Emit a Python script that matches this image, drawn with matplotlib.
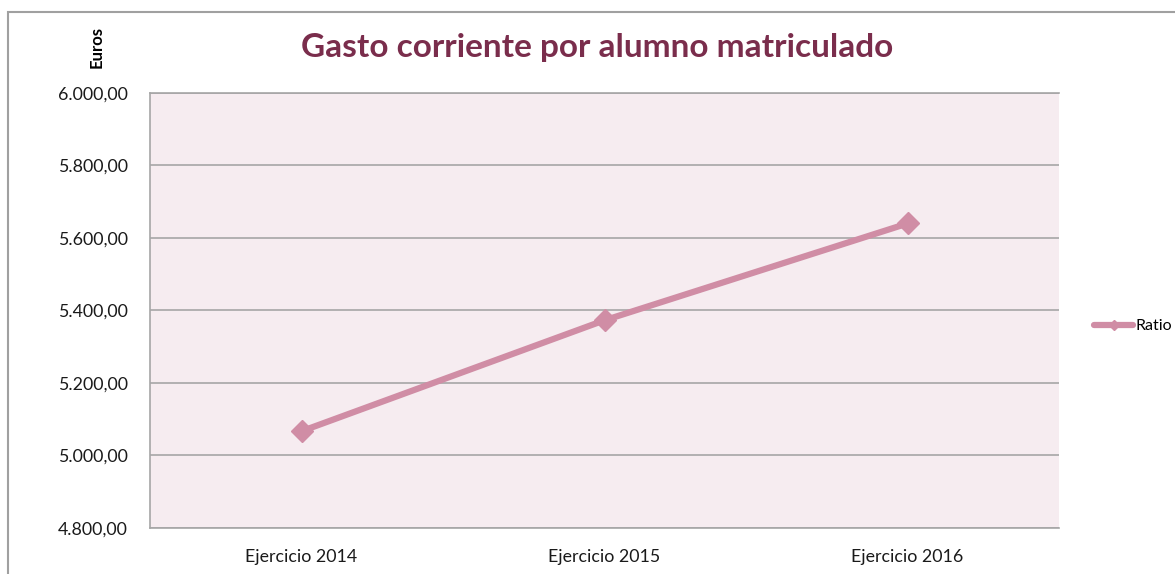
import matplotlib.pyplot as plt
from matplotlib.patches import Rectangle
from matplotlib.lines import Line2D
from matplotlib.ticker import FuncFormatter

categorias = ['Ejercicio 2014', 'Ejercicio 2015', 'Ejercicio 2016']
ratio = [5067, 5373, 5640]
y_ticks = [4800, 5000, 5200, 5400, 5600, 5800, 6000]

linea = '#D08DA5'
fondo = '#F6ECF0'
rejilla = '#A6A6A6'

plt.rcParams['font.family'] = ['Lato', 'DejaVu Sans']

fig = plt.figure(figsize=(11.75, 5.74), dpi=100)
ax = fig.add_axes([150/1175, 46/574, 909/1175, 435/574])
ax.set_facecolor(fondo)

x = list(range(len(categorias)))
ax.plot(x, ratio, color=linea, lw=4.5, marker='D', ms=11, solid_capstyle='round', zorder=3)

ax.set_xlim(-0.5, 2.5)
ax.set_ylim(4800, 6000)
ax.set_yticks(y_ticks)
ax.yaxis.set_major_formatter(FuncFormatter(lambda v, p: f'{v:,.2f}'.replace(',', 'X').replace('.', ',').replace('X', '.')))
ax.set_xticks(x)
ax.set_xticklabels(categorias)
ax.tick_params(axis='both', length=0, labelsize=12.8, colors='#1a1a1a')
ax.tick_params(axis='y', pad=16)
ax.tick_params(axis='x', pad=15)
ax.grid(axis='y', color=rejilla, lw=1.2)
ax.set_axisbelow(True)
ax.spines['right'].set_visible(False)
for s in ['left', 'bottom', 'top']:
    ax.spines[s].set_color(rejilla)
    ax.spines[s].set_linewidth(1.2)

fig.text(597/1175, 1 - 47/574, 'Gasto corriente por alumno matriculado', ha='center', va='center',
         fontsize=24, fontweight='bold', color='#7A2D4C')
fig.text(97/1175, 1 - 47/574, 'Euros', rotation=90, ha='center', va='center', fontsize=12, fontweight='bold')

h = Line2D([0], [0], color=linea, lw=4.5, marker='D', ms=5, solid_capstyle='round')
fig.legend([h], ['Ratio'], loc='center left', bbox_to_anchor=(1080/1175, 1 - 326/574), frameon=False,
           fontsize=11.5, handlelength=2.4, handletextpad=0.15)

fig.patches.append(Rectangle((8/1175, -0.1), 1.2, 1 - 12/574 + 0.1, transform=fig.transFigure,
                             fill=False, edgecolor='#A0A0A0', lw=1.5))

fig.savefig('out.png', dpi=100)
